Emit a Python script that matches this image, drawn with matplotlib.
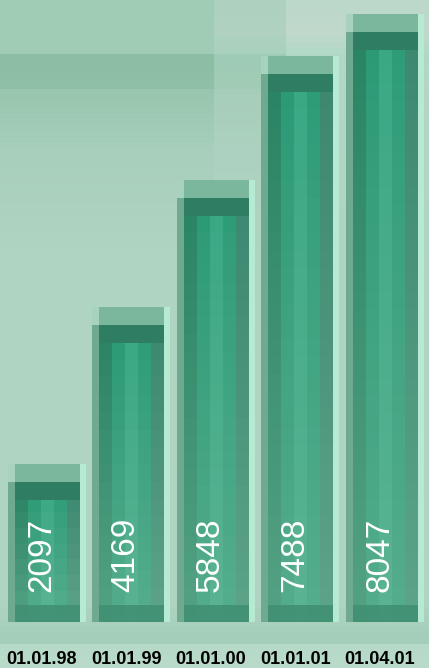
import numpy as np
import matplotlib.pyplot as plt
from matplotlib.colors import to_rgb

# data
dates = ["01.01.98", "01.01.99", "01.01.00", "01.01.01", "01.04.01"]
counts = [2097, 4169, 5848, 7488, 8047]

fig = plt.figure(figsize=(4.29, 6.68), dpi=100)
ax = fig.add_axes([0, 0, 1, 1])
x_lo, x_hi = -0.562, 4.515
y_lo, y_hi = -609, 8232
ax.set_xlim(x_lo, x_hi)
ax.set_ylim(y_lo, y_hi)
ax.axis('off')

px = (y_hi - y_lo) / 668.0   # data units per pixel (vertical)


def column(keys, rows):
    ky = [k[0] for k in keys]
    kc = np.array([to_rgb(k[1]) for k in keys])
    return np.stack([np.interp(rows, ky, kc[:, c]) for c in range(3)], axis=-1)


# background: blocky gradient, left half darker band near the top
rows = np.arange(0, 668, 6)
left = column([(0, '#a0cbb5'), (48, '#a0cbb5'), (52, '#8cbea4'), (85, '#90c0a6'),
               (90, '#98c6ae'), (150, '#a8cfbc'), (250, '#b0d4c2'), (600, '#b0d4c2'),
               (624, '#a8d0bc'), (643, '#a4ceba'), (648, '#b6d9c8'), (668, '#badbca')], rows)
right = column([(0, '#bcd8ca'), (30, '#c0d8cc'), (52, '#b0d8c6'), (85, '#b4d6c6'),
                (150, '#b2d4c4'), (250, '#b0d4c2'), (600, '#b0d4c2'),
                (624, '#a8d0bc'), (643, '#a4ceba'), (648, '#b6d9c8'), (668, '#badbca')], rows)
bg = np.stack([left, left, left, (left + right) / 2, right, right], axis=1)
ax.imshow(bg, extent=[x_lo, x_hi, y_lo, y_hi], aspect='auto',
          interpolation='nearest', zorder=0)

inner = 0.769
strip = 0.083
hl = 0.071
cap = 18 * px

profile = np.array([to_rgb(c) for c in
                    ['#2a8464', '#2c9a76', '#3aa884', '#2e9c78', '#3d8870']])
light = np.array(to_rgb('#7cbfa2'))

for i, v in enumerate(counts):
    # body with pixel-block gradient
    nrow = max(2, int(round(v / (18 * px))))
    t = np.linspace(0, 1, nrow)[:, None, None]   # 0 top, 1 bottom
    img = profile[None, :, :] * (1 - 0.5 * t) + light * 0.5 * t
    ax.imshow(img, extent=[i - inner / 2, i + inner / 2, 0, v - cap],
              aspect='auto', interpolation='nearest', zorder=2)
    # dark band under the cap
    ax.bar(i, cap, bottom=v - 2 * cap, width=inner, color='#2f7d62', zorder=3)
    # cap
    ax.bar(i, cap, bottom=v - cap, width=inner, color='#7ab79d', zorder=3)
    # bottom band
    ax.bar(i, 17 * px, bottom=0, width=inner, color='#3f8f72', alpha=0.85, zorder=3)
    # left muted strip and right highlight
    ax.bar(i - inner / 2 - strip / 2, v - cap, width=strip, color='#6faa90', zorder=3)
    ax.bar(i - inner / 2 - strip / 2, cap, bottom=v - cap, width=strip, color='#a6d2be', zorder=3)
    ax.bar(i + inner / 2 + hl / 2, v, width=hl, color='#b6ead2', zorder=3)

    ax.text(i - 0.07, 30 * px, str(v), rotation=90, color='white',
            ha='center', va='bottom', fontsize=24, family='Liberation Sans', zorder=5)
    ax.text(i - 0.065, -38 * px, dates[i], ha='center', va='center',
            fontsize=13, fontweight='bold', family='Liberation Sans',
            color='black', zorder=5)

fig.savefig('out.png', dpi=100)
